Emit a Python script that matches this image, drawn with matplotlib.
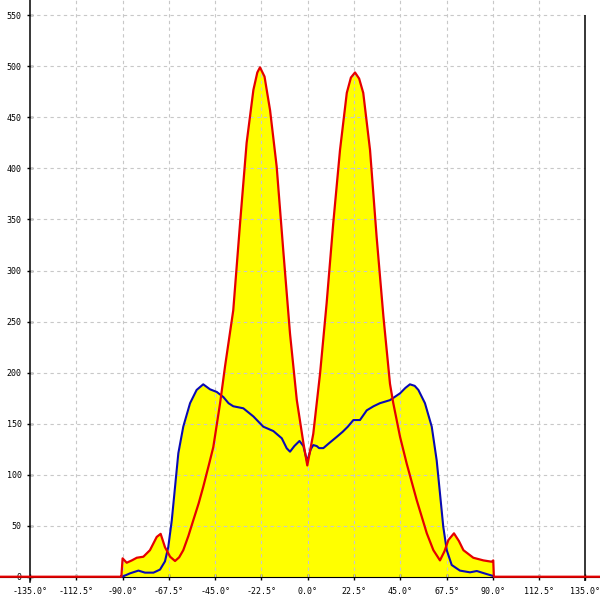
import numpy as np
from matplotlib import pyplot as plt

# angle (deg) / value pairs
red_deg = [-180, -91.0, -90.6, -90.0, -88.0, -85.5, -83.1, -79.9, -76.7, -73.4, -71.5,
           -69.4, -66.9, -64.5, -62.5, -60.5, -58.0, -55.6, -53.0, -50.8, -48.0,
           -45.9, -42.6, -40.2, -36.2, -32.9, -29.7, -26.4, -24.5, -23.2, -21.0,
           -18.3, -15.1, -11.9, -8.6, -5.3, -2.1, -0.2, 2.7, 6.0, 9.2, 12.4, 15.7,
           19.0, 21.0, 23.0, 25.0, 27.0, 30.3, 33.5, 36.8, 40.0, 41.6, 44.9, 48.1,
           53.0, 57.9, 61.1, 64.3, 66.5, 68.4, 71.1, 73.5, 75.7, 80.5, 85.4, 89.4,
           90.2, 90.5, 180]
red_val = [0, 0, 0, 18, 13.7, 16, 18.6, 19.6, 26, 39, 42,
           29, 19.6, 15.4, 19, 26, 40, 55.5, 72, 88, 110,
           127, 170, 206, 261, 346, 425, 477, 494, 499, 490,
           457, 402, 320, 238, 173, 131, 109, 140, 199, 268, 346, 418,
           474, 489, 494, 488, 474, 418, 333, 255, 189, 170, 137, 111,
           75, 42.5, 26, 16, 25, 36, 42.5, 35, 26, 18.6, 16, 14.7,
           16, 0, 0]

blue_deg = [-90.3, -89.6, -86.4, -82.3, -79.1, -75.0, -71.8, -69.4, -67.8, -66.1,
            -64.5, -62.9, -60.5, -57.2, -54.0, -50.8, -47.5, -44.2, -41.0, -38.5,
            -36.2, -31.3, -26.4, -21.6, -16.7, -12.6, -10.2, -8.6, -6.5, -4.0,
            -2.1, -0.3, 1.5, 2.7, 4.4, 5.5, 7.6, 10.5, 14.1, 17.0, 19.5, 22.2,
            25.4, 28.7, 32.0, 35.1, 40.0, 44.9, 47.5, 49.7, 52.0, 53.8, 57.0,
            60.3, 62.7, 64.3, 65.9, 67.6, 70.0, 74.0, 78.9, 82.2, 87.0, 90.2, 90.5]
blue_val = [0, 0.5, 3.3, 6, 4, 4, 7, 15, 29, 55,
            88, 121, 147, 170, 183, 188.5, 183.6, 181, 176, 170,
            167, 165, 157, 147, 142.7, 135.6, 125.8, 122.5, 128, 133,
            128, 113, 125, 129, 128, 126, 126, 131, 137, 142, 147, 153.5,
            153.5, 163, 167, 170, 173, 179.7, 185, 188.5, 187, 183, 170,
            147, 114, 81.7, 49, 26, 11.5, 6, 4.3, 5.6, 2.6, 0.7, 0]

x_ticks = [-135.0, -112.5, -90.0, -67.5, -45.0, -22.5, 0.0, 22.5, 45.0, 67.5, 90.0, 112.5, 135.0]
y_ticks = [0, 50, 100, 150, 200, 250, 300, 350, 400, 450, 500, 550]

fig = plt.figure(figsize=(6, 6), dpi=100)
ax = fig.add_axes([0, 0, 1, 1])
ax.set_xlim(-149.6, 142.1)
ax.set_ylim(-22.8, 565)

# yellow area under both curves
ax.fill_between(red_deg, red_val, 0, color='#ffff00', lw=0, zorder=1)
ax.fill_between(blue_deg, blue_val, 0, color='#ffff00', lw=0, zorder=1)

# grid
ax.hlines(y_ticks[1:], -135, 135, colors='#c8c8c8', linestyles=(0, (3, 3)), lw=0.8, zorder=2)
ax.vlines(x_ticks[1:-1], 0, 565, colors='#c8c8c8', linestyles=(0, (3, 3)), lw=0.8, zorder=2)
ax.vlines([135], -4, 550, colors='black', lw=1.1, zorder=3)

ax.plot(blue_deg, blue_val, color='#0a0ab4', lw=1.5, zorder=4)
ax.plot(red_deg, red_val, color='#e60000', lw=1.6, zorder=5)

ax.spines['top'].set_visible(False)
ax.spines['right'].set_visible(False)
ax.spines['left'].set_position(('data', -135))
ax.spines['bottom'].set_position(('data', 0))
ax.spines['left'].set_bounds(-5, 565)
ax.spines['left'].set_linewidth(1.1)

ax.set_xticks(x_ticks)
ax.set_xticklabels([f'{t:.1f}°' for t in x_ticks])
ax.set_yticks(y_ticks)
ax.set_yticklabels([str(t) for t in y_ticks])
ax.tick_params(axis='x', direction='inout', length=5, width=1, pad=5, labelsize=6)
ax.tick_params(axis='y', direction='inout', length=5, width=1, pad=3.5, labelsize=6)
for lab in ax.get_xticklabels() + ax.get_yticklabels():
    lab.set_family('DejaVu Sans Mono')

fig.savefig('out.png', dpi=100)
